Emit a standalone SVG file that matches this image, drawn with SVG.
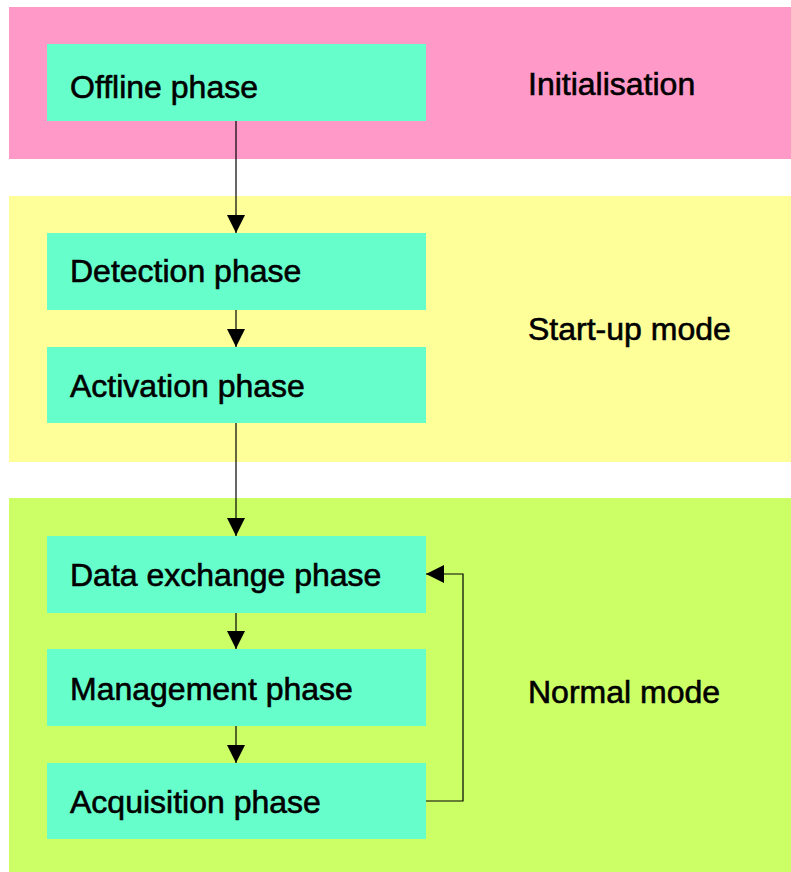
<svg xmlns="http://www.w3.org/2000/svg" width="791" height="872" viewBox="0 0 791 872">
<defs>
<style>
.box{fill:#66FFCC}
.t{font-family:"Liberation Sans",Arial,sans-serif;font-size:32px;fill:#000;stroke:#000;stroke-width:0.6}
.c{stroke:#000;stroke-width:1.2;fill:none}
</style>
<marker id="ah" markerWidth="18" markerHeight="18" viewBox="0 0 18 18" refX="18" refY="9" orient="auto" markerUnits="userSpaceOnUse">
<path d="M0,0 L18,9 L0,18 Z" fill="#000"/>
</marker>
</defs>
<rect width="791" height="872" fill="#fff"/>
<g id="band-init"><rect x="9" y="7" width="782" height="152" fill="#FF99C8"/><text class="t" x="528" y="95">Initialisation</text></g>
<g id="band-startup"><rect x="9" y="196" width="782" height="266" fill="#FFFF99"/><text class="t" x="528" y="340">Start-up mode</text></g>
<g id="band-normal"><rect x="9" y="498" width="782" height="374" fill="#CCFF66"/><text class="t" x="528" y="703">Normal mode</text></g>
<g id="offline"><rect class="box" x="47" y="44" width="379" height="77"/><text class="t" x="70" y="98">Offline phase</text></g>
<g id="detection"><rect class="box" x="47" y="233" width="379" height="77"/><text class="t" x="70" y="282">Detection phase</text></g>
<g id="activation"><rect class="box" x="47" y="347" width="379" height="76"/><text class="t" x="70" y="397">Activation phase</text></g>
<g id="dataexchange"><rect class="box" x="47" y="536" width="379" height="77"/><text class="t" x="70" y="586">Data exchange phase</text></g>
<g id="management"><rect class="box" x="47" y="649" width="379" height="77"/><text class="t" x="70" y="700">Management phase</text></g>
<g id="acquisition"><rect class="box" x="47" y="763" width="379" height="76"/><text class="t" x="70" y="813">Acquisition phase</text></g>
<g id="connectors">
<path class="c" d="M236,121 V233" marker-end="url(#ah)"/>
<path class="c" d="M236,310 V347" marker-end="url(#ah)"/>
<path class="c" d="M236,423 V536" marker-end="url(#ah)"/>
<path class="c" d="M236,613 V649" marker-end="url(#ah)"/>
<path class="c" d="M236,726 V763" marker-end="url(#ah)"/>
<path class="c" d="M426,801 H463 V574 H426" marker-end="url(#ah)"/>
</g>
</svg>
